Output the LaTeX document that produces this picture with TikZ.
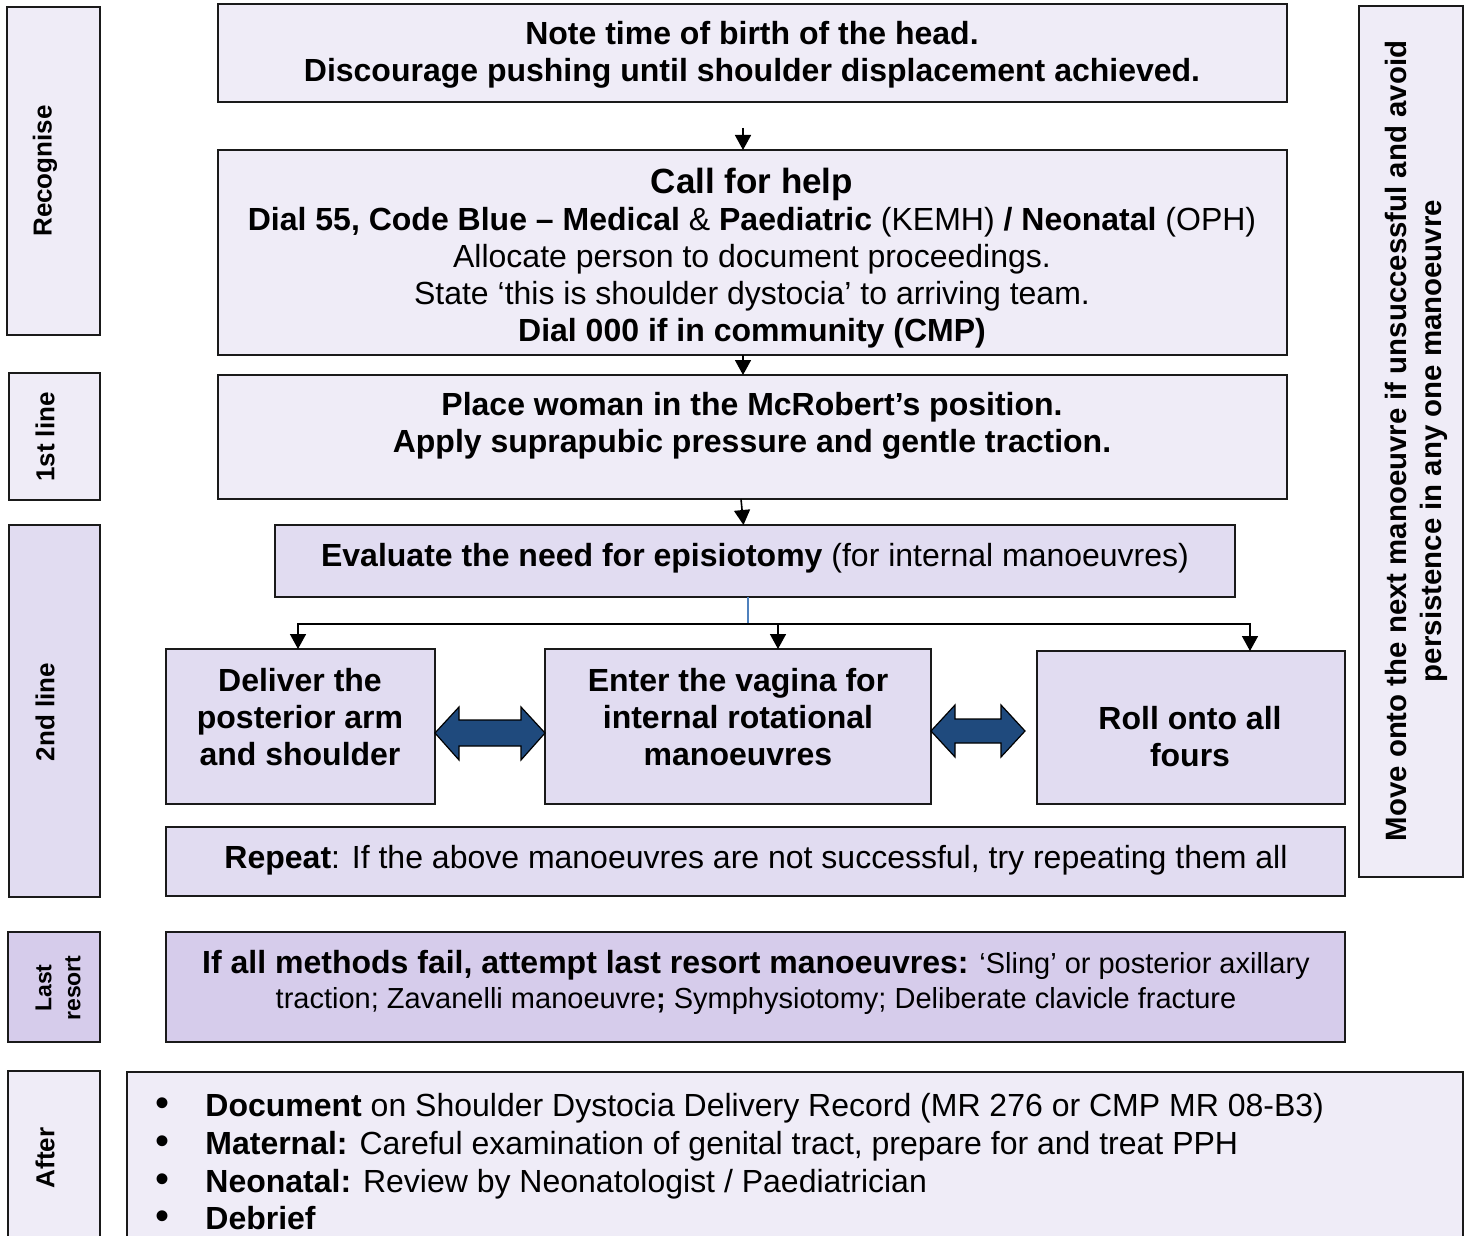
\documentclass[tikz,border=0pt]{standalone}
\usepackage{fontspec}
\setmainfont{Liberation Sans}
\usetikzlibrary{arrows.meta,fit,calc}
\definecolor{lightlav}{HTML}{EFECF7}
\definecolor{midlav}{HTML}{E1DCF1}
\definecolor{darklav}{HTML}{D6CCEB}
\definecolor{arrowblue}{HTML}{1F4A7D}
\definecolor{linkblue}{HTML}{4F81BD}
\definecolor{edgecol}{HTML}{1A1A1A}
\begin{document}
\begin{tikzpicture}[x=0.5pt,y=-0.5pt,
  box/.style={draw=edgecol, line width=1pt, inner sep=0pt, outer sep=0pt},
  lightbox/.style={box, fill=lightlav},
  midbox/.style={box, fill=midlav},
  darkbox/.style={box, fill=darklav},
  txt/.style={align=center, inner sep=0pt, font=\fontsize{16}{18.5}\selectfont\bfseries},
  plain/.style={align=center, inner sep=0pt, font=\fontsize{16}{18.5}\selectfont},
  lab/.style={rotate=90, align=center, inner sep=0pt, font=\fontsize{13}{15}\selectfont\bfseries},
  arr/.style={-{Triangle[width=8pt,length=7.5pt]}, line width=0.8pt, black},
  dbl/.style={fill=arrowblue, draw=black, line width=0.6pt, line join=miter},
  blt/.style={anchor=base, inner sep=0pt, font=\fontsize{20}{18.5}\selectfont},
  aft/.style={anchor=base west, inner sep=0pt, font=\fontsize{16}{18.5}\selectfont}
]
\useasboundingbox (0,0) rectangle (1469,1236);
\clip (0,0) rectangle (1469,1236);

% left labels
\node[lightbox, fit={(7,7) (100,335)}] (lRec) {};
\node[lightbox, fit={(9,373) (100,500)}] (l1) {};
\node[midbox, fit={(9,525) (100,897)}] (l2) {};
\node[darkbox, fit={(8,932) (100,1042)}] (lLR) {};
\node[lightbox, fit={(8,1071) (100,1270)}] (lAft) {};
\node[lab] (tRec) at (45,171) {Recognise};
\node[lab] (t1l) at (45,437) {1st line};
\node[lab] (t2l) at (45,712) {2nd line};
\node[lab, font=\fontsize{11.5}{14.5}\selectfont\bfseries] (tLRl) at (58,988) {Last\\resort};
\node[lab] (tAftl) at (45,1158) {After};

% right side box
\node[lightbox, fit={(1359,6) (1463,877)}] (mv) {};
\node[lab, font=\fontsize{14.7}{17.5}\selectfont\bfseries] (tmv) at (1416,441)
  {Move onto the next manoeuvre if unsuccessful and avoid\\persistence in any one manoeuvre};

% main flow boxes
\node[lightbox, fit={(218,4) (1287,102)}] (b1) {};
\node[lightbox, fit={(218,150) (1287,355)}] (b2) {};
\node[lightbox, fit={(218,375) (1287,499)}] (b3) {};
\node[midbox, fit={(275,525) (1235,597)}] (bEv) {};
\node[midbox, fit={(166,649) (435,804)}] (bD) {};
\node[midbox, fit={(545,649) (931,804)}] (bE) {};
\node[midbox, fit={(1037,651) (1345,804)}] (bR) {};
\node[midbox, fit={(166,827) (1345,896)}] (bRep) {};
\node[darkbox, fit={(166,932) (1345,1042)}] (bLR) {};
\node[lightbox, fit={(127,1072) (1463,1280)}] (bAft) {};

% texts
\node[txt] (t1) at (752,55) {Note time of birth of the head.\\Discourage pushing until shoulder displacement achieved.};
\node[plain] (t2) at (752,258) {{\fontsize{17.5}{18.5}\selectfont\bfseries Call for help}\\
  \textbf{Dial 55, Code Blue – Medical} \& \textbf{Paediatric} (KEMH) \textbf{/ Neonatal} (OPH)\\
  Allocate person to document proceedings.\\
  State ‘this is shoulder dystocia’ to arriving team.\\
  \textbf{Dial 000 if in community (CMP)}};
\node[txt] (t3) at (752,426) {Place woman in the McRobert’s position.\\Apply suprapubic pressure and gentle traction.};
\node[plain] (tEv) at (755,558) {\textbf{Evaluate the need for episiotomy} (for internal manoeuvres)};
\node[txt] (tD) at (300,717) {Deliver the\\posterior arm\\and shoulder};
\node[txt] (tE) at (738,717) {Enter the vagina for\\internal rotational\\manoeuvres};
\node[txt] (tR) at (1190,737) {Roll onto all\\fours};
\node[plain] (tRep) at (756,860) {\textbf{Repeat}: If the above manoeuvres are not successful, try repeating them all};
\node[plain, font=\fontsize{14.5}{17.5}\selectfont] (tLR) at (756,982)
  {{\fontsize{16}{17.5}\selectfont\bfseries If all methods fail, attempt last resort manoeuvres:} ‘Sling’ or posterior axillary\\
   traction; Zavanelli manoeuvre\textbf{;} Symphysiotomy; Deliberate clavicle fracture};

% after list
\node[blt] (p1) at (163,1116) {•};
\node[blt] (p2) at (163,1154) {•};
\node[blt] (p3) at (163,1192) {•};
\node[blt] (p4) at (163,1229) {•};
\node[aft] (a1) at (205,1116) {\textbf{Document} on Shoulder Dystocia Delivery Record (MR 276 or CMP MR 08-B3)};
\node[aft] (a2) at (205,1154) {\textbf{Maternal:} Careful examination of genital tract, prepare for and treat PPH};
\node[aft] (a3) at (205,1192) {\textbf{Neonatal:} Review by Neonatologist / Paediatrician};
\node[aft] (a4) at (205,1229) {\textbf{Debrief}};

% connectors
\draw[arr, shorten <=13pt] ([xshift=-4.75pt]b1.south) -- ([xshift=-4.75pt]b2.north);
\draw[arr] ([xshift=-4.75pt]b2.south) -- ([xshift=-4.75pt]b3.north);
\draw[arr] ([xshift=-5.75pt]b3.south) -- ([xshift=-5.75pt]bEv.north);
\coordinate (split) at (748,624);
\draw[linkblue, line width=0.8pt] (bEv.south -| split) -- (split);
\draw[arr] (split) -| ([xshift=-1.25pt]bD.north);
\draw[arr] (split) -| ([xshift=20pt]bE.north);
\draw[arr] (split) -| ([xshift=29.5pt]bR.north);

% double arrows
\draw[dbl] (435,733) -- (459,707) -- (459,720) -- (521,720) -- (521,707) -- (545,733)
  -- (521,760) -- (521,746) -- (459,746) -- (459,760) -- cycle;
\draw[dbl] (931,731) -- (955,705) -- (955,719) -- (1001,719) -- (1001,705) -- (1025,731)
  -- (1001,757) -- (1001,743) -- (955,743) -- (955,757) -- cycle;
\end{tikzpicture}
\end{document}
